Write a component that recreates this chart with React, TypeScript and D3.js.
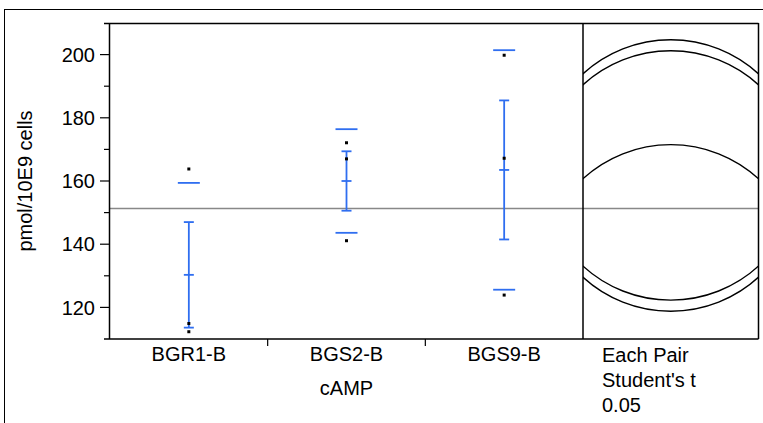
import React from "react";
import * as d3 from "d3";

const categories = ["BGR1-B", "BGS2-B", "BGS9-B"];
const points = [
  [163.8, 114.9, 112.3],
  [172.1, 167.0, 141.1],
  [199.8, 167.2, 123.9],
];
const means = [130.3, 160.0, 163.5];
const sds = [29.1, 16.4, 37.9];
const ses = [16.7, 9.4, 22.0];
const grandMean = 151.3;
const circleRadius = 41.2;
const yTicks = [120, 140, 160, 180, 200];
const yMinorTicks = [130, 150, 170, 190];
const yTitle = "pmol/10E9 cells";
const xTitle = "cAMP";
const circleLabel = ["Each Pair", "Student's t", "0.05"];

const W = 763;
const H = 423;
const L = 110, R = 583, T = 23, B = 339;
const PR = 758.5;
const BLUE = "#2f6ef0";
const FONT = "'Liberation Sans', Arial, sans-serif";
const FS = 20;

export default function App() {
  const y = d3.scaleLinear().domain([110, 210]).range([B, T]);
  const x = d3.scaleBand<string>().domain(categories).range([L, R]);
  const bw = x.bandwidth();
  const circleCx = (R + PR) / 2;
  const rPx = Math.abs(y(circleRadius) - y(0));
  return (
    <svg width={W} height={H} style={{ position: "absolute", left: 0, top: 0 }} fontFamily={FONT}>
      <rect x={0} y={0} width={W} height={H} fill="white" />
      <defs>
        <clipPath id="cpanel">
          <rect x={R} y={T} width={PR - R} height={B - T} />
        </clipPath>
        <clipPath id="cplot">
          <rect x={L} y={T} width={R - L} height={B - T} />
        </clipPath>
      </defs>
      {/* outer frame */}
      <rect x={4.5} y={9.5} width={900} height={600} fill="none" stroke="#000" strokeWidth={1} />

      {/* grand mean line */}
      <line x1={L} x2={PR} y1={y(grandMean)} y2={y(grandMean)} stroke="#888" strokeWidth={1.5} />

      {/* groups */}
      <g clipPath="url(#cplot)">
        {categories.map((c, i) => {
          const xc = (x(c) as number) + bw / 2;
          const m = means[i];
          return (
            <g key={c}>
              <line x1={xc - 11} x2={xc + 11} y1={y(m + sds[i])} y2={y(m + sds[i])} stroke={BLUE} strokeWidth={1.8} />
              <line x1={xc - 11} x2={xc + 11} y1={y(m - sds[i])} y2={y(m - sds[i])} stroke={BLUE} strokeWidth={1.8} />
              <line x1={xc} x2={xc} y1={y(m + ses[i])} y2={y(m - ses[i])} stroke={BLUE} strokeWidth={1.8} />
              <line x1={xc - 5} x2={xc + 5} y1={y(m + ses[i])} y2={y(m + ses[i])} stroke={BLUE} strokeWidth={1.8} />
              <line x1={xc - 5} x2={xc + 5} y1={y(m - ses[i])} y2={y(m - ses[i])} stroke={BLUE} strokeWidth={1.8} />
              <line x1={xc - 5} x2={xc + 5} y1={y(m)} y2={y(m)} stroke={BLUE} strokeWidth={1.8} />
              {points[i].map((p, j) => (
                <rect key={j} x={xc - 1.5} y={y(p) - 1.5} width={3} height={3} fill="#000" />
              ))}
            </g>
          );
        })}
      </g>

      {/* comparison circles */}
      <g clipPath="url(#cpanel)">
        {means.map((m, i) => (
          <circle key={i} cx={circleCx} cy={y(m)} r={rPx} fill="none" stroke="#000" strokeWidth={1.4} />
        ))}
      </g>

      {/* frame lines */}
      <line x1={104} x2={PR} y1={T + 0.5} y2={T + 0.5} stroke="#000" strokeWidth={1.5} />
      <line x1={104} x2={PR} y1={B} y2={B} stroke="#000" strokeWidth={1.5} />
      <line x1={L - 0.5} x2={L - 0.5} y1={T} y2={B} stroke="#000" strokeWidth={1.5} />
      <line x1={R} x2={R} y1={T} y2={B} stroke="#000" strokeWidth={1.5} />
      <line x1={PR} x2={PR} y1={T} y2={B} stroke="#000" strokeWidth={1.5} />

      {/* y ticks */}
      {yTicks.map((t) => (
        <g key={t}>
          <line x1={100} x2={L} y1={y(t)} y2={y(t)} stroke="#000" strokeWidth={1.2} />
          <text x={95} y={y(t)} dy="0.36em" textAnchor="end" fontSize={FS}>{t}</text>
        </g>
      ))}
      {yMinorTicks.map((t) => (
        <line key={t} x1={104} x2={L} y1={y(t)} y2={y(t)} stroke="#000" strokeWidth={1.2} />
      ))}
      <text transform={`translate(32,${(T + B) / 2}) rotate(-90)`} textAnchor="middle" fontSize={FS}>{yTitle}</text>

      {/* x ticks */}
      {categories.slice(1).map((c) => (
        <line key={c} x1={x(c) as number} x2={x(c) as number} y1={B} y2={B + 7} stroke="#000" strokeWidth={1.2} />
      ))}
      {categories.map((c) => (
        <text key={c} x={(x(c) as number) + bw / 2} y={361} textAnchor="middle" fontSize={FS}>{c}</text>
      ))}
      <text x={(L + R) / 2} y={395} textAnchor="middle" fontSize={FS}>{xTitle}</text>
      {circleLabel.map((s, i) => (
        <text key={i} x={602} y={362 + i * 25} fontSize={FS}>{s}</text>
      ))}
    </svg>
  );
}
